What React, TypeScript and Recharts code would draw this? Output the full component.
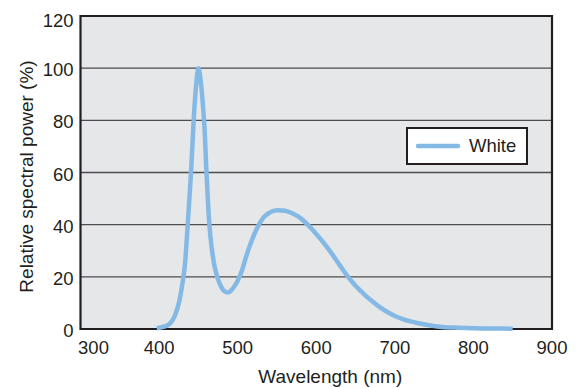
import React from 'react';
import { LineChart, Line, XAxis, YAxis, CartesianGrid, ReferenceArea, Legend } from 'recharts';

const wavelengths = [
  397, 405, 413, 420, 426, 430, 433, 436, 439, 441, 444, 447, 450, 453, 456, 458, 460, 462, 464, 467,
  470, 473, 477, 481, 485, 488, 491, 495, 500, 505, 510, 515, 520, 527, 533, 540, 550, 560, 570, 580,
  590, 600, 610, 620, 630, 640, 650, 660, 670, 680, 690, 700, 710, 720, 730, 740, 750, 760, 780, 800,
  825, 850,
];
const power = [
  0.3, 0.8, 1.8, 5, 11, 18, 25, 38, 52, 62, 80, 93, 100, 95, 85, 76, 62, 50, 40, 31,
  25, 21, 17.5, 15.2, 14.2, 14, 14.6, 16, 18.5, 22, 27, 31.5, 35.5, 40, 42.8, 44.5, 45.5, 45.3, 44.3, 42.5,
  39.7, 36.4, 32.8, 28.8, 24.4, 20.2, 16.6, 13.6, 10.9, 8.6, 6.6, 5, 3.8, 2.9, 2.2, 1.6, 1.1, 0.8, 0.5, 0.3,
  0.2, 0.1,
];
const xTicks = [300, 400, 500, 600, 700, 800, 900];
const yTicks = [0, 20, 40, 60, 80, 100, 120];
const seriesName = 'White';
const xLabel = 'Wavelength (nm)';
const yLabel = 'Relative spectral power (%)';

const data = wavelengths.map((w, i) => ({ w, v: power[i] }));

const FONT = '"Liberation Sans", Arial, Helvetica, sans-serif';
const TEXT = '#231f20';
const LINE = '#84b9e5';
const FS = 18.5;
const LFS = 19;

const XTick = (props: any) => {
  const { x, y, payload } = props;
  const shift = payload.value === xTicks[0] ? 13 : 0;
  return (
    <text x={x + shift} y={y + 25} textAnchor="middle" fontFamily={FONT} fontSize={FS} fill={TEXT}>
      {payload.value}
    </text>
  );
};

const YTick = (props: any) => {
  const { x, y, payload } = props;
  const extra = payload.value === yTicks[yTicks.length - 1] ? 3 : 0;
  return (
    <text x={x - 7} y={y + 8 + extra} textAnchor="end" fontFamily={FONT} fontSize={FS} fill={TEXT}>
      {payload.value}
    </text>
  );
};

const YLabel = (props: any) => {
  const vb = props.viewBox || { x: 0, y: 0, width: 0, height: 0 };
  const cx = vb.x + 26;
  const cy = vb.y + vb.height / 2 + 4;
  return (
    <text
      transform={`translate(${cx},${cy}) rotate(-90)`}
      textAnchor="middle"
      dominantBaseline="central"
      fontFamily={FONT}
      fontSize={LFS}
      fill={TEXT}
    >
      {yLabel}
    </text>
  );
};

const XLabel = (props: any) => {
  const vb = props.viewBox || { x: 0, y: 0, width: 0, height: 0 };
  return (
    <text x={vb.x + vb.width / 2 + 14} y={vb.y + 54} textAnchor="middle" fontFamily={FONT} fontSize={LFS} fill={TEXT}>
      {xLabel}
    </text>
  );
};

const LegendBox = () => (
  <div
    style={{
      boxSizing: 'border-box',
      width: 122,
      height: 38,
      border: `2px solid ${TEXT}`,
      background: '#ffffff',
      display: 'flex',
      alignItems: 'center',
      fontFamily: FONT,
      fontSize: FS,
      color: TEXT,
    }}
  >
    <svg width={48} height={8} style={{ marginLeft: 6, display: 'block' }}>
      <line x1={4} y1={4} x2={44} y2={4} stroke={LINE} strokeWidth={4.5} strokeLinecap="round" />
    </svg>
    <span style={{ marginLeft: 7, lineHeight: 1 }}>{seriesName}</span>
  </div>
);

export default function App() {
  return (
    <div style={{ position: 'absolute', left: 0, top: 0, width: 584, height: 388, background: '#ffffff' }}>
      <LineChart width={584} height={388} data={data} margin={{ top: 16, right: 32, bottom: 0, left: 0.5 }}>
        <CartesianGrid vertical={false} fill="#e6e7e8" stroke="#4d4d4d" strokeWidth={1.3} />
        <XAxis
          dataKey="w"
          type="number"
          domain={[300, 900]}
          ticks={xTicks}
          tick={<XTick />}
          tickLine={false}
          axisLine={false}
          tickSize={0}
          tickMargin={0}
          height={59}
          label={<XLabel />}
        />
        <YAxis
          type="number"
          domain={[0, 120]}
          ticks={yTicks}
          tick={<YTick />}
          tickLine={false}
          axisLine={false}
          tickSize={0}
          tickMargin={0}
          width={80}
          label={<YLabel />}
        />
        <Line
          type="monotone"
          dataKey="v"
          name={seriesName}
          stroke={LINE}
          strokeWidth={4.5}
          dot={false}
          activeDot={false}
          isAnimationActive={false}
        />
        <ReferenceArea x1={300} x2={900} y1={0} y2={120} fill="none" stroke={TEXT} strokeWidth={2.2} fillOpacity={0} />
        <Legend
          layout="vertical"
          align="center"
          verticalAlign="middle"
          content={<LegendBox />}
          wrapperStyle={{ position: 'absolute', left: 406, top: 127, width: 122, height: 38 }}
        />
      </LineChart>
    </div>
  );
}
